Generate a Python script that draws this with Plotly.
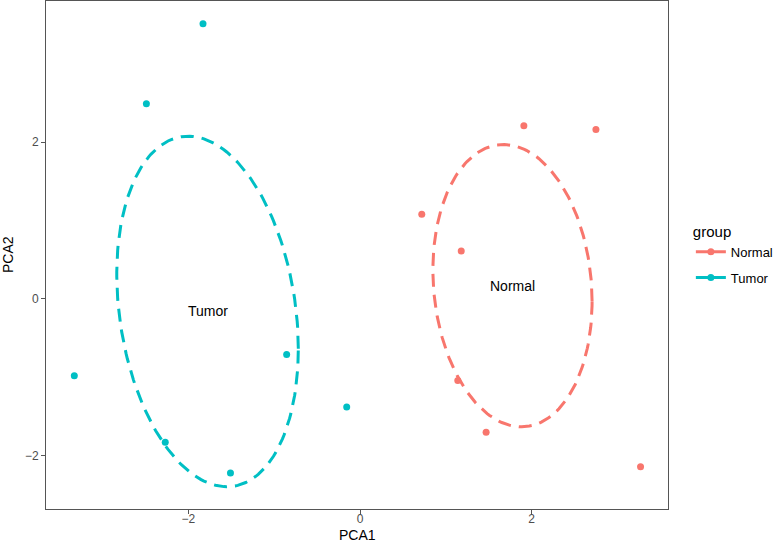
import numpy as np
import plotly.graph_objects as go

groups = ["Normal", "Tumor"]
colors = {"Normal": "#F8766D", "Tumor": "#00BFC4"}

normal_pca1 = [1.91, 2.75, 0.72, 1.18, 1.14, 1.47, 3.27]
normal_pca2 = [2.21, 2.16, 1.08, 0.61, -1.04, -1.70, -2.14]
tumor_pca1 = [-1.83, -2.49, -3.33, -0.855, -0.155, -2.27, -1.51]
tumor_pca2 = [3.51, 2.49, -0.98, -0.71, -1.38, -1.83, -2.22]

data = {"Normal": (normal_pca1, normal_pca2), "Tumor": (tumor_pca1, tumor_pca2)}
ELLIPSE_RADIUS = 1.0  # Mahalanobis radius

FONT = "Liberation Sans, Arial, sans-serif"

fig = go.Figure()
for g in groups:
    x = np.array(data[g][0]); y = np.array(data[g][1])
    c = colors[g]
    cx, cy = x.mean(), y.mean()
    cov = np.cov(np.vstack([x, y]))
    L = np.linalg.cholesky(cov)
    t = np.linspace(0, 2 * np.pi, 200)
    circ = np.vstack([np.cos(t), np.sin(t)]) * ELLIPSE_RADIUS
    ell = L @ circ
    fig.add_trace(go.Scatter(x=cx + ell[0], y=cy + ell[1], mode="lines",
                             line=dict(color=c, width=3, dash="13px,8px"),
                             legendgroup=g, showlegend=False, hoverinfo="skip"))
    fig.add_trace(go.Scatter(x=x, y=y, mode="markers", marker=dict(color=c, size=7),
                             legendgroup=g, showlegend=False, name=g))
    fig.add_trace(go.Scatter(x=[None], y=[None], mode="lines+markers", name=g,
                             marker=dict(color=c, size=7), line=dict(color=c, width=3),
                             legendgroup=g, showlegend=True))
    fig.add_annotation(x=cx, y=cy, text=g, showarrow=False,
                       font=dict(size=14, color="black", family=FONT))

axis_common = dict(showgrid=False, zeroline=False, showline=True, mirror=True,
                   linecolor="#555555", linewidth=1, ticks="outside", ticklen=4,
                   tickcolor="#555555", tickfont=dict(size=12, color="#4d4d4d"),
                   automargin=False)

fig.add_annotation(xref="paper", yref="paper", x=0.5, y=0, yshift=-26, text="PCA1",
                   showarrow=False, yanchor="middle",
                   font=dict(size=14, color="black", family=FONT))
fig.add_annotation(xref="paper", yref="paper", x=0, xshift=-38, y=0.5, text="PCA2",
                   showarrow=False, textangle=-90, xanchor="center",
                   font=dict(size=14, color="black", family=FONT))

fig.update_layout(
    width=778, height=543,
    margin=dict(l=46, r=110, t=1, b=34, autoexpand=False),
    paper_bgcolor="white", plot_bgcolor="white",
    font=dict(family=FONT, color="black"),
    xaxis=dict(range=[-3.66, 3.59], tickvals=[-2, 0, 2], ticktext=["\u22122", "0", "2"],
               ticklabelstandoff=-5, **axis_common),
    yaxis=dict(range=[-2.68, 3.80], tickvals=[-2, 0, 2], ticktext=["\u22122", "0", "2"],
               **axis_common),
    legend=dict(xref="container", yref="container", x=0.888, xanchor="left",
                y=0.60, yanchor="top",
                title=dict(text="group", font=dict(size=15)),
                font=dict(size=13), tracegroupgap=6, itemwidth=30),
    showlegend=True,
)

fig.write_html("out.html", config={"displayModeBar": False},
               post_script="document.body.style.margin='0';document.body.style.overflow='hidden';")
